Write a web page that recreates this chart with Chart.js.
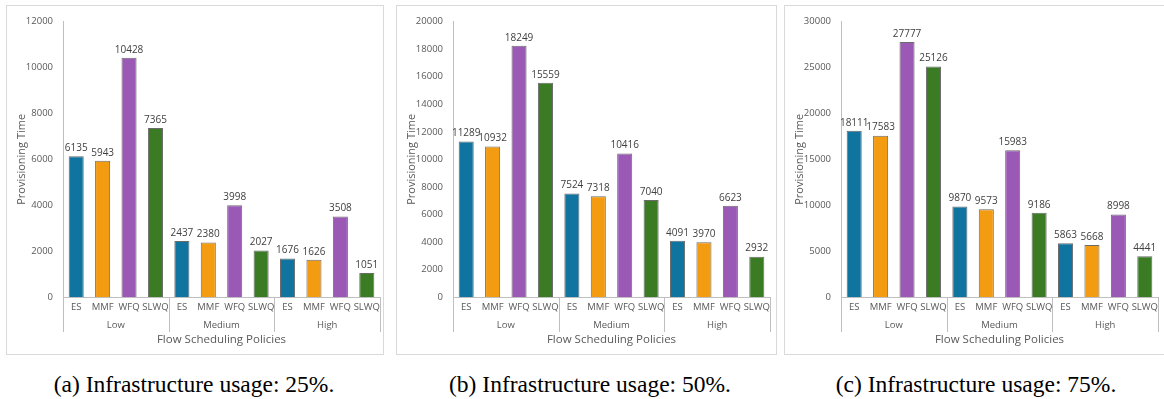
<!DOCTYPE html>
<html lang="en">
<head>
    <meta charset="UTF-8">
    <title>Provisioning Time</title>
    <script src="https://cdn.jsdelivr.net/npm/chart.js"></script>
    <style>
        html, body { margin: 0; padding: 0; background: #fff; }
        body { width: 1164px; height: 399px; position: relative; overflow: hidden; font-family: 'Open Sans', sans-serif; }
        .panel { position: absolute; top: 5px; height: 350px; border: 1px solid #d9d9d9; box-sizing: border-box; }
        .caption { position: absolute; top: 370px; width: 390px; text-align: center; font-family: 'Liberation Serif', serif; font-size: 23.5px; line-height: 28px; color: #000; }
    </style>
</head>
<body>

<div class="panel" style="left:6px; width:378px;"><canvas id="chartA"></canvas></div>
<div class="panel" style="left:396px; width:381px;"><canvas id="chartB"></canvas></div>
<div class="panel" style="left:784px; width:381px;"><canvas id="chartC"></canvas></div>

<div class="caption" style="left:-1px;">(a) Infrastructure usage: 25%.</div>
<div class="caption" style="left:395px;">(b) Infrastructure usage: 50%.</div>
<div class="caption" style="left:781px;">(c) Infrastructure usage: 75%.</div>

<script>
    // data
    const policies = ['ES', 'MMF', 'WFQ', 'SLWQ'];
    const loads = ['Low', 'Medium', 'High'];
    const usage25 = [6135, 5943, 10428, 7365, 2437, 2380, 3998, 2027, 1676, 1626, 3508, 1051];
    const usage50 = [11289, 10932, 18249, 15559, 7524, 7318, 10416, 7040, 4091, 3970, 6623, 2932];
    const usage75 = [18111, 17583, 27777, 25126, 9870, 9573, 15983, 9186, 5863, 5668, 8998, 4441];
    const yMax = [12000, 20000, 30000];
    const yStep = [2000, 2000, 5000];

    const policyColors = ['#0f75a0', '#f39c12', '#9b59b6', '#3a7b24'];
    const textColor = '#595959';
    const axisColor = '#bfbfbf';
    const fontFamily = "'Open Sans', sans-serif";

    const categories = [];
    loads.forEach(() => policies.forEach(p => categories.push(p)));
    const barColors = categories.map((c, i) => policyColors[i % 4]);

    // value labels above each bar
    const valueLabels = {
        id: 'valueLabels',
        afterDatasetsDraw(chart) {
            const ctx = chart.ctx;
            const ds = chart.data.datasets[0];
            ctx.save();
            ctx.font = '10px ' + fontFamily;
            ctx.fillStyle = '#404040';
            ctx.textAlign = 'center';
            ctx.textBaseline = 'bottom';
            chart.getDatasetMeta(0).data.forEach((bar, i) => {
                ctx.fillText(ds.data[i], bar.x, bar.y - 3);
            });
            ctx.restore();
        }
    };

    // vertical dividers between the load groups
    const groupDividers = {
        id: 'groupDividers',
        afterDraw(chart) {
            const ctx = chart.ctx;
            const x = chart.scales.x;
            const bottom = chart.scales.groups.bottom - 22;
            ctx.save();
            ctx.strokeStyle = axisColor;
            ctx.lineWidth = 1;
            [-0.5, 3.5, 7.5, 11.5].forEach(v => {
                const px = Math.round(x.getPixelForValue(v)) + 0.5;
                ctx.beginPath();
                ctx.moveTo(px, x.top);
                ctx.lineTo(px, bottom);
                ctx.stroke();
            });
            ctx.restore();
        }
    };

    function noSidePadding(scale) {
        scale.paddingLeft = 0;
        scale.paddingRight = 0;
    }

    function makeChart(id, values, max, step, padRight, padTop) {
        new Chart(document.getElementById(id).getContext('2d'), {
            type: 'bar',
            data: {
                labels: categories,
                datasets: [{
                    data: values,
                    backgroundColor: barColors,
                    borderColor: '#6b6b6b',
                    borderWidth: 1,
                    barPercentage: 0.57,
                    categoryPercentage: 1
                }]
            },
            options: {
                responsive: true,
                maintainAspectRatio: false,
                animation: false,
                layout: { padding: { left: 0, right: padRight, top: padTop, bottom: 0 } },
                plugins: {
                    legend: { display: false },
                    tooltip: { enabled: false }
                },
                scales: {
                    y: {
                        min: 0,
                        max: max,
                        ticks: { stepSize: step, padding: 10, color: textColor, font: { family: fontFamily, size: 9.5 }, callback: v => String(v) },
                        grid: { display: false, drawTicks: false },
                        border: { display: true, color: axisColor },
                        title: { display: true, text: 'Provisioning Time', color: textColor, font: { family: fontFamily, size: 11 }, padding: { top: 8, bottom: 0 } },
                        afterFit(scale) { scale.width = 56; }
                    },
                    x: {
                        position: 'bottom',
                        ticks: { padding: 5, color: textColor, autoSkip: false, maxRotation: 0, font: { family: fontFamily, size: 9.5 } },
                        grid: { display: false, drawTicks: false },
                        border: { display: true, color: axisColor },
                        afterFit(scale) { scale.height = 20; noSidePadding(scale); }
                    },
                    groups: {
                        type: 'category',
                        position: 'bottom',
                        labels: loads,
                        offset: true,
                        ticks: { padding: 3, color: textColor, font: { family: fontFamily, size: 9.5 } },
                        grid: { display: false, drawTicks: false },
                        border: { display: false },
                        title: { display: true, text: 'Flow Scheduling Policies', color: textColor, font: { family: fontFamily, size: 11.5 }, padding: { top: 0, bottom: 7 } },
                        afterFit(scale) { scale.height = 37; noSidePadding(scale); }
                    }
                }
            },
            plugins: [valueLabels, groupDividers]
        });
    }

    makeChart('chartA', usage25, yMax[0], yStep[0], 3, 9);
    makeChart('chartB', usage50, yMax[1], yStep[1], 6, 7);
    makeChart('chartC', usage75, yMax[2], yStep[2], 6, 8);
</script>

</body>
</html>
